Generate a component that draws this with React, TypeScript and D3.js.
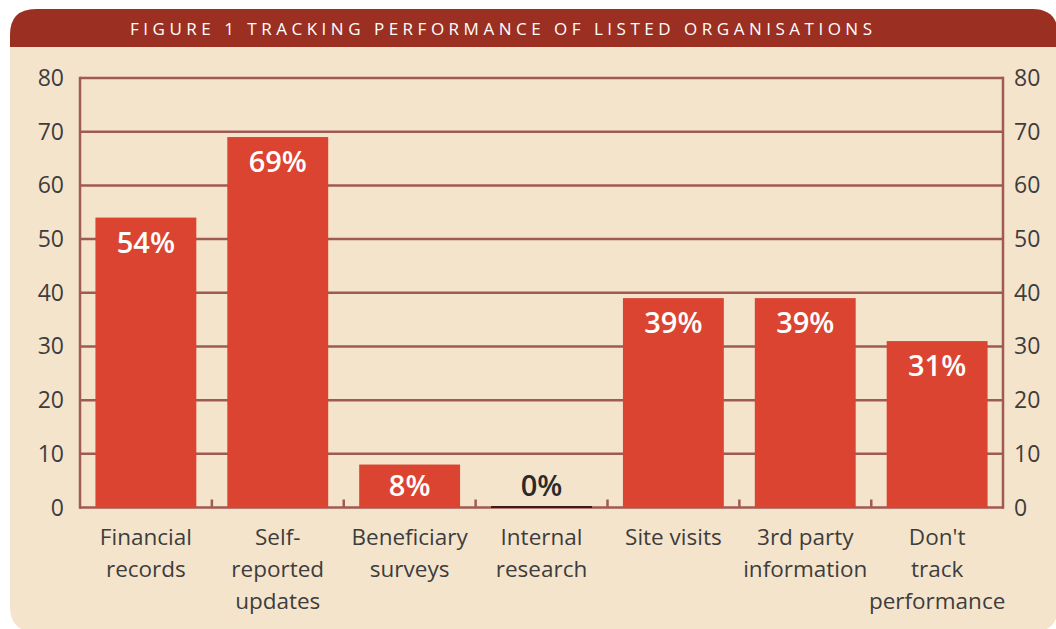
import React from "react";
import * as d3 from "d3";

const categories: string[][] = [
  ["Financial", "records"],
  ["Self-", "reported", "updates"],
  ["Beneficiary", "surveys"],
  ["Internal", "research"],
  ["Site visits"],
  ["3rd party", "information"],
  ["Don't", "track", "performance"],
];
const values: number[] = [54, 69, 8, 0, 39, 39, 31];
const yTicks: number[] = [0, 10, 20, 30, 40, 50, 60, 70, 80];
const title = "FIGURE 1 TRACKING PERFORMANCE OF LISTED ORGANISATIONS";

const W = 1056;
const H = 629;
const FONT = "'Open Sans', 'Noto Sans', sans-serif";

export default function App() {
  const left = 80;
  const right = 1003;
  const top = 78;
  const bottom = 507.5;
  const x = d3
    .scaleBand<number>()
    .domain(d3.range(categories.length))
    .range([left, right])
    .paddingInner(0.235)
    .paddingOuter(0.117);
  const y = d3.scaleLinear().domain([0, 80]).range([bottom, top]);
  const step = x.step();
  const gridColor = "#a05a56";
  const bg = "#f5e4cc";

  const px0 = 10, py0 = 9, px1 = 1058, py1 = 632, r = 26;
  const panel = `M${px0},${py0 + r} Q${px0},${py0} ${px0 + r},${py0} L${px1 - r},${py0} Q${px1},${py0} ${px1},${py0 + r} L${px1},${py1 - r} Q${px1},${py1} ${px1 - r},${py1} L${px0 + r},${py1} Q${px0},${py1} ${px0},${py1 - r} Z`;

  return (
    <svg width={W} height={H} style={{ position: "absolute", left: 0, top: 0, display: "block" }}>
      <rect x={0} y={0} width={W} height={H} fill="#ffffff" />
      <defs>
        <clipPath id="panelClip">
          <path d={panel} />
        </clipPath>
      </defs>
      <path d={panel} fill={bg} />
      <rect x={0} y={0} width={W} height={47} fill="#9b2f22" clipPath="url(#panelClip)" />
      <text
        x={130}
        y={35}
        fill="#ffffff"
        fontFamily={FONT}
        fontSize={17}
        textLength={742}
        lengthAdjust="spacing"
      >
        {title}
      </text>

      {yTicks.map((t) => (
        <line key={"g" + t} x1={left} x2={right} y1={y(t)} y2={y(t)} stroke={gridColor} strokeWidth={2.5} />
      ))}
      <line x1={left} x2={left} y1={y(80) - 1.2} y2={y(0) + 1.2} stroke={gridColor} strokeWidth={2.5} />
      <line x1={right} x2={right} y1={y(80) - 1.2} y2={y(0) + 1.2} stroke={gridColor} strokeWidth={2.5} />
      {d3.range(1, categories.length).map((i) => (
        <line
          key={"t" + i}
          x1={left + step * i}
          x2={left + step * i}
          y1={y(0)}
          y2={y(0) - 8}
          stroke={gridColor}
          strokeWidth={2.5}
        />
      ))}

      {yTicks.map((t) => (
        <g key={"yl" + t} fontFamily={FONT} fontSize={23} fill="#3d3d3d">
          <text x={64} y={y(t)} dy="0.35em" textAnchor="end">{t}</text>
          <text x={1014} y={y(t)} dy="0.35em" textAnchor="start">{t}</text>
        </g>
      ))}

      {values.map((v, i) => {
        const bx = x(i)!;
        const bw = x.bandwidth();
        const cx = bx + bw / 2;
        if (v === 0) {
          return (
            <g key={"b" + i}>
              <line x1={bx} x2={bx + bw} y1={y(0) - 0.5} y2={y(0) - 0.5} stroke="#3a1c18" strokeWidth={2} />
              <text x={cx} y={y(0) - 22} dy="0.35em" textAnchor="middle" fontFamily={FONT} fontWeight={600} fontSize={29} fill="#2a2a2a">
                {v}%
              </text>
            </g>
          );
        }
        const ty = Math.min(y(v) + 25, (y(v) + y(0)) / 2);
        return (
          <g key={"b" + i}>
            <rect x={bx} y={y(v)} width={bw} height={y(0) - y(v)} fill="#db4430" />
            <text x={cx} y={ty} dy="0.35em" textAnchor="middle" fontFamily={FONT} fontWeight={600} fontSize={29} fill="#ffffff">
              {v}%
            </text>
          </g>
        );
      })}

      {categories.map((lines, i) => (
        <text
          key={"c" + i}
          x={x(i)! + x.bandwidth() / 2}
          textAnchor="middle"
          fontFamily={FONT}
          fontSize={22.5}
          fill="#3d3d3d"
        >
          {lines.map((ln, j) => (
            <tspan key={j} x={x(i)! + x.bandwidth() / 2} y={537 + j * 32} dy="0.35em">
              {ln}
            </tspan>
          ))}
        </text>
      ))}
    </svg>
  );
}
